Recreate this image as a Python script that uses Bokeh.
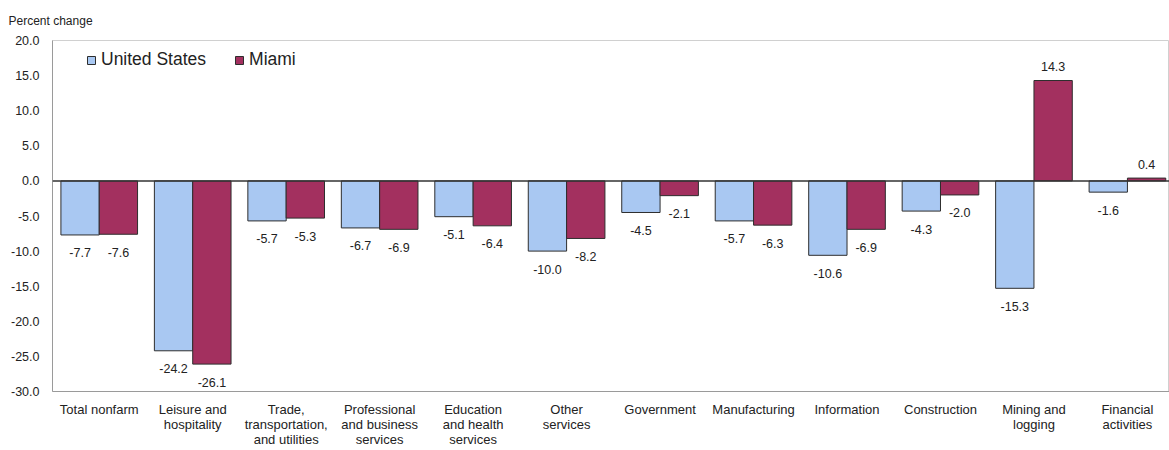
from bokeh.plotting import figure
from bokeh.models import Range1d, FixedTicker, Span, Legend, LegendItem, ColumnDataSource
from bokeh.embed import file_html
from bokeh.resources import INLINE

categories = ["Total nonfarm", "Leisure and\nhospitality", "Trade,\ntransportation,\nand utilities",
              "Professional\nand business\nservices", "Education\nand health\nservices", "Other\nservices",
              "Government", "Manufacturing", "Information", "Construction", "Mining and\nlogging",
              "Financial\nactivities"]
us_values = [-7.7, -24.2, -5.7, -6.7, -5.1, -10.0, -4.5, -5.7, -10.6, -4.3, -15.3, -1.6]
miami_values = [-7.6, -26.1, -5.3, -6.9, -6.4, -8.2, -2.1, -6.3, -6.9, -2.0, 14.3, 0.4]
y_ticks = [-30, -25, -20, -15, -10, -5, 0, 5, 10, 15, 20]

US_COLOR = "#a9c8f2"
MIAMI_COLOR = "#a3305f"
FONT = "Liberation Sans"

p = figure(width=1169, height=450, output_backend="svg", toolbar_location=None,
           x_range=Range1d(0, 11.95), y_range=Range1d(-30, 20),
           min_border_left=52, min_border_right=0, min_border_top=40, min_border_bottom=59,
           title="Percent change")
p.title.align = "left"
p.title.offset = -44
p.title.text_font = FONT
p.title.text_font_size = "12px"
p.title.text_font_style = "normal"
p.title.text_color = "#222222"
p.title.text_line_height = 0.5
p.title.vertical_align = "top"
p.title.standoff = 22
p.background_fill_color = "white"
p.border_fill_color = "white"
p.outline_line_color = "#d0d0d0"
p.xgrid.visible = False
p.ygrid.visible = False

n = len(categories)
centers = [i + 0.5 for i in range(n)]
w = 0.41
us_x = [c - w / 2 for c in centers]
mi_x = [c + w / 2 for c in centers]

src_us = ColumnDataSource(dict(x=us_x, top=us_values, lab=["%.1f" % v for v in us_values],
                               off=[18 if v < 0 else -14 for v in us_values]))
src_mi = ColumnDataSource(dict(x=mi_x, top=miami_values, lab=["%.1f" % v for v in miami_values],
                               off=[18 if v < 0 else -14 for v in miami_values]))

r_us = p.vbar(x="x", top="top", bottom=0, width=w, source=src_us, fill_color=US_COLOR,
              line_color="#2e2e2e", line_width=1)
r_mi = p.vbar(x="x", top="top", bottom=0, width=w, source=src_mi, fill_color=MIAMI_COLOR,
              line_color="#2e2e2e", line_width=1)

for src in (src_us, src_mi):
    p.text(x="x", y="top", text="lab", y_offset="off", source=src, text_align="center",
           text_baseline="middle", text_font_size="12.5px", text_color="#222222",
           text_font={"value": FONT})

p.add_layout(Span(location=0, dimension="width", line_color="#333333", line_width=1.5))

# axes
p.yaxis.ticker = FixedTicker(ticks=y_ticks)
p.yaxis.major_label_overrides = {t: "%.1f" % t for t in y_ticks}
p.yaxis.major_tick_line_color = None
p.yaxis.major_tick_out = 0
p.yaxis.minor_tick_out = 0
p.yaxis.minor_tick_line_color = None
p.yaxis.axis_line_color = "#9a9a9a"
p.yaxis.major_label_text_font = FONT
p.yaxis.major_label_text_font_size = "12.5px"
p.yaxis.major_label_text_color = "#222222"
p.yaxis.major_label_standoff = 13

p.xaxis.ticker = FixedTicker(ticks=centers)
p.xaxis.major_label_overrides = {c: lab for c, lab in zip(centers, categories)}
p.xaxis.major_tick_line_color = None
p.xaxis.major_tick_out = 0
p.xaxis.minor_tick_out = 0
p.xaxis.minor_tick_line_color = None
p.xaxis.axis_line_color = "#9a9a9a"
p.xaxis.major_label_text_font = FONT
p.xaxis.major_label_text_font_size = "13px"
p.xaxis.major_label_text_line_height = 1.0
p.xaxis.major_label_text_color = "#222222"
p.xaxis.major_label_standoff = 10

legend = Legend(items=[LegendItem(label="United States", renderers=[r_us]),
                       LegendItem(label="Miami", renderers=[r_mi])],
                orientation="horizontal", location=(34, 321), border_line_color=None,
                background_fill_alpha=0, label_text_font=FONT, label_text_font_size="17.5px",
                label_text_color="#222222", glyph_width=10, glyph_height=10, spacing=28,
                label_standoff=5, padding=2, margin=0)
p.add_layout(legend)

open("out.html", "w").write(file_html(p, INLINE))
